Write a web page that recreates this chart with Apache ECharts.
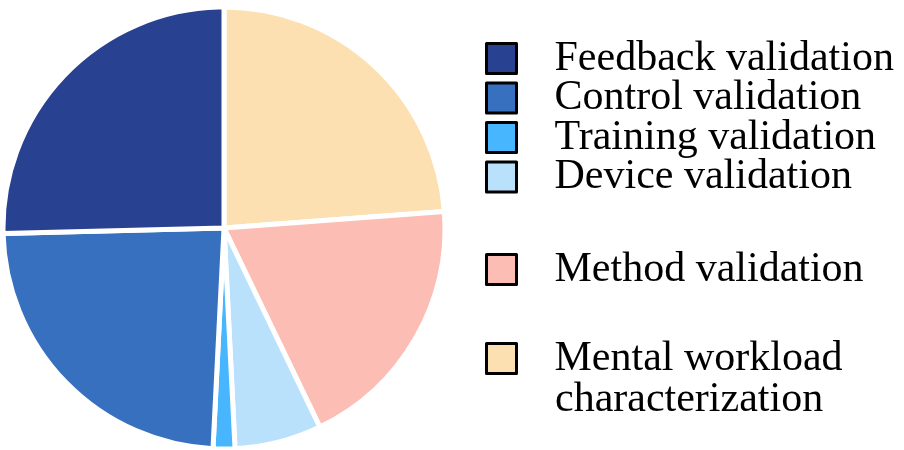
<!DOCTYPE html>
<html>
<head>
<meta charset="utf-8">
<script src="https://cdn.jsdelivr.net/npm/echarts@6/dist/echarts.min.js"></script>
<style>html,body{margin:0;padding:0;background:#fff;}#c{width:904px;height:450px;}</style>
</head>
<body>
<div id="c"></div>
<script>
// Slices in drawing order (clockwise from 12 o'clock)
const categories = ['Mental workload characterization', 'Method validation', 'Device validation', 'Training validation', 'Control validation', 'Feedback validation'];
const counts = [15, 12, 4, 1, 15, 16];
const colors = ['#FDE0B2', '#FCBEB4', '#B9E1FC', '#48B6FF', '#3670BE', '#284191'];
const legendGroupA = ['Feedback validation', 'Control validation', 'Training validation', 'Device validation'];
const legendGroupB = ['Method validation'];
const legendGroupC = ['Mental workload characterization'];
const mentalLines = ['Mental workload', 'characterization'];

const chart = echarts.init(document.getElementById('c'), null, {renderer: 'canvas'});
const font = 'Liberation Serif';
const fs = 42;
function legendBase(top, data) {
  return {
    orient: 'vertical', left: 485, top: top, data: data, padding: 0,
    icon: 'rect', itemWidth: 30, itemHeight: 30, itemGap: -2.5,
    selectedMode: false,
    itemStyle: {borderColor: '#000', borderWidth: 3},
    textStyle: {fontFamily: font, fontSize: fs, color: '#000', lineHeight: 39.5, padding: [0, 0, 0, 33]}
  };
}
const legC = legendBase(337.5, legendGroupC);
legC.formatter = function () { return mentalLines[0]; };

chart.setOption({
  animation: false,
  color: colors,
  legend: [legendBase(37.5, legendGroupA), legendBase(248.5, legendGroupB), legC],
  graphic: [{
    type: 'text', left: 555, top: 379,
    style: {text: mentalLines[1], fontFamily: font, fontSize: fs, fill: '#000', lineHeight: 39.5}
  }],
  series: [{
    type: 'pie',
    center: [224, 228],
    radius: 221,
    startAngle: 90,
    clockwise: true,
    label: {show: false},
    labelLine: {show: false},
    emphasis: {disabled: true},
    itemStyle: {borderColor: '#fff', borderWidth: 5},
    data: categories.map((n, i) => ({name: n, value: counts[i]}))
  }]
});
</script>
</body>
</html>
